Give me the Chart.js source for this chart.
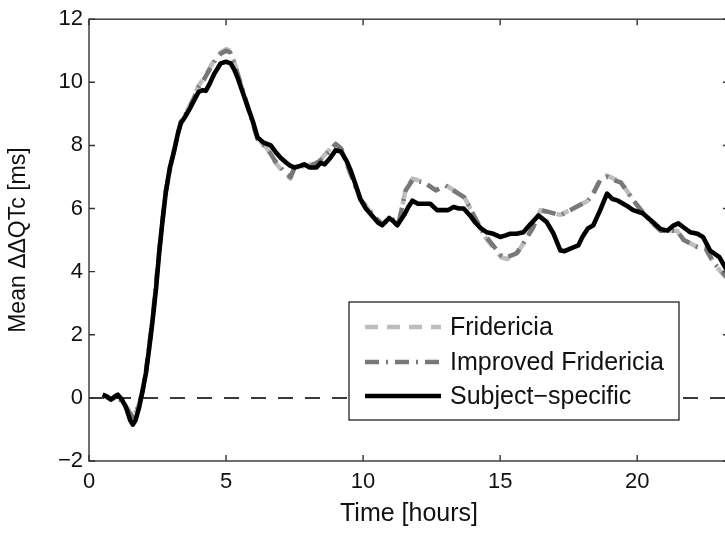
<!DOCTYPE html>
<html>
<head>
<meta charset="utf-8">
<script src="https://cdn.jsdelivr.net/npm/chart.js@4/dist/chart.umd.min.js"></script>
<style>
html,body{margin:0;padding:0;background:#fff;overflow:hidden;}
#wrap{width:730px;height:533px;position:relative;}
</style>
</head>
<body>
<div id="wrap"><canvas id="c" width="730" height="533"></canvas></div>
<script>
// ---- data ----
const seriesLabels = ["Fridericia", "Improved Fridericia", "Subject\u2212specific"];
const xTickValues = [0, 5, 10, 15, 20];
const yTickValues = [-2, 0, 2, 4, 6, 8, 10, 12];
const xMin = 0, xMax = 23.35, yMin = -2, yMax = 12;
const zeroLevel = 0;

const subjectHours = [0.5,0.65,0.8,0.95,1.05,1.2,1.35,1.5,1.6,1.7,1.83,1.95,2.08,2.2,2.32,2.45,2.56,2.68,2.8,2.95,3.1,3.25,3.35,3.5,3.7,3.85,4.0,4.15,4.26,4.4,4.57,4.7,4.8,5.0,5.17,5.3,5.42,5.6,5.8,6.0,6.15,6.35,6.63,6.8,7.0,7.2,7.35,7.5,7.7,7.85,8.05,8.3,8.45,8.6,8.8,9.0,9.2,9.4,9.55,9.75,9.9,10.1,10.4,10.55,10.7,10.95,11.1,11.25,11.5,11.65,11.8,12.0,12.2,12.45,12.7,12.9,13.1,13.3,13.5,13.67,13.9,14.1,14.3,14.5,14.75,15.0,15.2,15.37,15.6,15.85,16.1,16.4,16.7,16.95,17.2,17.35,17.56,17.85,18.0,18.2,18.4,18.65,18.9,19.1,19.3,19.6,19.85,20.2,20.6,20.85,21.1,21.3,21.5,21.7,21.93,22.2,22.4,22.66,23.0,23.2,23.35];
const subjectValues = [0.1,0.05,-0.05,0.05,0.1,-0.05,-0.3,-0.7,-0.85,-0.7,-0.3,0.2,0.8,1.6,2.45,3.5,4.6,5.6,6.5,7.3,7.8,8.4,8.7,8.9,9.2,9.45,9.7,9.75,9.73,9.95,10.27,10.45,10.6,10.65,10.6,10.4,10.15,9.7,9.2,8.7,8.25,8.1,8.0,7.8,7.6,7.45,7.35,7.3,7.35,7.4,7.3,7.3,7.45,7.4,7.6,7.85,7.8,7.5,7.2,6.7,6.3,6.0,5.7,5.55,5.47,5.7,5.6,5.47,5.8,6.05,6.25,6.15,6.15,6.15,5.95,5.95,5.95,6.05,6.0,6.0,5.78,5.55,5.37,5.25,5.2,5.1,5.15,5.2,5.2,5.25,5.5,5.78,5.57,5.2,4.67,4.65,4.73,4.83,5.1,5.37,5.47,5.95,6.47,6.3,6.25,6.1,5.95,5.85,5.55,5.35,5.3,5.45,5.53,5.4,5.25,5.2,5.1,4.67,4.46,4.15,3.95];

const improvedHours = [0.5,0.8,1.05,1.3,1.6,1.75,1.95,2.08,2.32,2.56,2.8,3.1,3.35,3.7,4.0,4.2,4.4,4.6,4.8,5.0,5.15,5.3,5.45,5.8,6.15,6.5,6.8,7.1,7.35,7.5,7.8,8.1,8.4,8.7,9.0,9.2,9.5,9.9,10.4,10.7,11.0,11.3,11.4,11.55,11.8,12.2,12.45,12.65,13.0,13.43,13.7,14.0,14.4,14.8,15.05,15.25,15.6,15.85,16.2,16.47,16.83,17.2,17.67,18.2,18.4,18.65,18.9,19.13,19.4,19.87,20.35,20.85,21.45,21.7,22.2,22.5,22.8,23.1,23.35];
const improvedValues = [0.1,-0.05,0.05,-0.25,-0.6,-0.4,0.2,0.85,2.5,4.65,6.55,7.85,8.75,9.25,9.85,10.1,10.4,10.7,10.9,11.0,10.95,10.6,10.2,9.2,8.2,7.9,7.5,7.2,7.0,7.3,7.35,7.35,7.5,7.75,8.05,7.9,7.2,6.3,5.75,5.5,5.7,5.55,5.95,6.57,6.9,6.83,6.7,6.57,6.73,6.5,6.35,5.85,5.2,4.77,4.5,4.46,4.58,4.9,5.4,5.95,5.88,5.78,6.0,6.25,6.47,6.9,7.0,6.9,6.83,6.25,5.73,5.3,5.3,5.0,4.78,4.75,4.27,4.0,3.75];

const fridericiaHours = [0.5,0.8,1.05,1.3,1.6,1.75,1.95,2.08,2.32,2.56,2.8,3.1,3.35,3.7,4.0,4.2,4.4,4.6,4.8,5.0,5.15,5.3,5.45,5.8,6.15,6.5,6.8,7.1,7.35,7.5,7.8,8.1,8.4,8.7,9.0,9.2,9.5,9.9,10.4,10.7,11.0,11.3,11.4,11.55,11.8,12.2,12.45,12.65,13.0,13.43,13.7,14.0,14.4,14.8,15.05,15.25,15.6,15.85,16.2,16.47,16.83,17.2,17.67,18.2,18.4,18.65,18.9,19.13,19.4,19.87,20.35,20.85,21.45,21.7,22.2,22.5,22.8,23.1,23.35];
const fridericiaValues = [0.1,-0.05,0.05,-0.2,-0.55,-0.4,0.2,0.85,2.5,4.65,6.55,7.85,8.75,9.3,9.9,10.15,10.45,10.75,10.95,11.05,11.0,10.65,10.2,9.2,8.2,7.9,7.45,7.15,6.95,7.3,7.35,7.4,7.5,7.8,8.05,7.9,7.2,6.3,5.75,5.5,5.7,5.55,5.95,6.6,6.95,6.85,6.7,6.6,6.75,6.5,6.35,5.85,5.15,4.7,4.45,4.4,4.55,4.9,5.4,5.95,5.88,5.8,6.0,6.25,6.5,6.95,7.05,6.95,6.85,6.25,5.7,5.3,5.3,5.0,4.78,4.7,4.25,3.95,3.7];

const toPoints = (xs, ys) => xs.map((x, i) => ({x: x, y: ys[i]}));

const FONT = "'Liberation Sans', Arial, Helvetica, sans-serif";

const legendPlugin = {
  id: 'boxLegend',
  afterDraw(chart) {
    const ctx = chart.ctx;
    const bx = 349, by = 302, bw = 330, bh = 118;
    ctx.save();
    ctx.fillStyle = '#fff';
    ctx.fillRect(bx, by, bw, bh);
    ctx.strokeStyle = '#222';
    ctx.lineWidth = 1.3;
    ctx.strokeRect(bx, by, bw, bh);
    const rows = [327, 362, 396];
    [0, 1, 2].forEach((di, r) => {
      const ds = chart.data.datasets[di];
      ctx.beginPath();
      ctx.setLineDash(ds.borderDash || []);
      ctx.lineDashOffset = 0;
      ctx.strokeStyle = ds.borderColor;
      ctx.lineWidth = ds.borderWidth;
      ctx.moveTo(365, rows[r]);
      ctx.lineTo(441, rows[r]);
      ctx.stroke();
      ctx.setLineDash([]);
      ctx.fillStyle = '#111';
      ctx.font = '25px ' + FONT;
      ctx.textBaseline = 'middle';
      ctx.textAlign = 'left';
      ctx.fillText(ds.label, 450, rows[r] + 1);
    });
    ctx.restore();
  }
};

const frameTicksPlugin = {
  id: 'frameTicks',
  afterDatasetsDraw(chart) {
    const ctx = chart.ctx;
    const a = chart.chartArea;
    const xs = chart.scales.x, ys = chart.scales.y;
    const len = 6;
    ctx.save();
    ctx.strokeStyle = '#333';
    ctx.lineWidth = 1.4;
    ctx.strokeRect(a.left, a.top, a.right - a.left, a.bottom - a.top);
    ctx.beginPath();
    xTickValues.forEach(v => {
      const px = xs.getPixelForValue(v);
      ctx.moveTo(px, a.bottom); ctx.lineTo(px, a.bottom - len);
      ctx.moveTo(px, a.top); ctx.lineTo(px, a.top + len);
    });
    yTickValues.forEach(v => {
      const py = ys.getPixelForValue(v);
      ctx.moveTo(a.left, py); ctx.lineTo(a.left + len, py);
      ctx.moveTo(a.right, py); ctx.lineTo(a.right - len, py);
    });
    ctx.stroke();
    ctx.restore();
  }
};

new Chart(document.getElementById('c'), {
  type: 'line',
  data: {
    datasets: [
      { label: seriesLabels[0], data: toPoints(fridericiaHours, fridericiaValues),
        borderColor: '#bdbdbd', borderWidth: 4.5, borderDash: [13, 9], order: 3 },
      { label: seriesLabels[1], data: toPoints(improvedHours, improvedValues),
        borderColor: '#787878', borderWidth: 4.5, borderDash: [14, 7, 2, 7], order: 2 },
      { label: seriesLabels[2], data: toPoints(subjectHours, subjectValues),
        borderColor: '#000', borderWidth: 4.6, order: 1 },
      { label: 'zero', data: [{x: xMin, y: zeroLevel}, {x: xMax, y: zeroLevel}],
        borderColor: '#3a3a3a', borderWidth: 2, borderDash: [15, 12], order: 4 }
    ]
  },
  options: {
    responsive: false,
    animation: false,
    elements: { point: { radius: 0 }, line: { tension: 0, borderJoinStyle: 'round', borderCapStyle: 'butt', fill: false } },
    layout: { padding: { top: 19, right: 1, left: 0, bottom: 0 } },
    plugins: { legend: { display: false }, tooltip: { enabled: false } },
    scales: {
      x: {
        type: 'linear', min: xMin, max: xMax,
        afterFit: s => { s.height = 72; },
        grid: { display: false, drawTicks: false },
        border: { display: false },
        ticks: { stepSize: 5, includeBounds: false, padding: 8, color: '#111',
                 font: { family: FONT, size: 22 }, maxRotation: 0,
                 callback: v => xTickValues.includes(v) ? String(v) : null },
        title: { display: true, text: 'Time [hours]', color: '#111',
                 font: { family: FONT, size: 25 }, padding: { top: 0, bottom: 4 } }
      },
      y: {
        type: 'linear', min: yMin, max: yMax,
        afterFit: s => { s.width = 89; },
        grid: { display: false, drawTicks: false },
        border: { display: false },
        ticks: { stepSize: 2, padding: 6, color: '#111',
                 font: { family: FONT, size: 22 },
                 callback: v => yTickValues.includes(v) ? (v < 0 ? '\u2212' + Math.abs(v) : String(v)) : null },
        title: { display: true, text: 'Mean \u0394\u0394QTc [ms]', color: '#111',
                 font: { family: FONT, size: 23 }, padding: { top: 5, bottom: 0 } }
      }
    }
  },
  plugins: [frameTicksPlugin, legendPlugin]
});
</script>
</body>
</html>
